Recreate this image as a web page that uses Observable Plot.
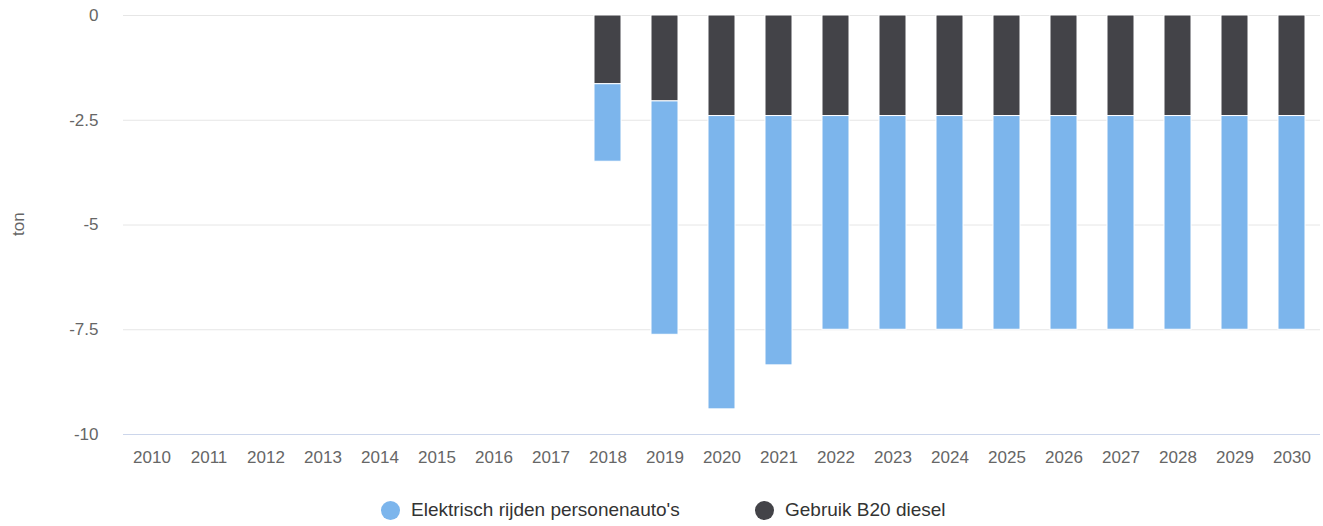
<!DOCTYPE html>
<html><head><meta charset="utf-8">
<script src="https://cdn.jsdelivr.net/npm/d3@7"></script>
<script src="https://cdn.jsdelivr.net/npm/@observablehq/plot@0.6"></script>
<style>
body{margin:0;background:#fff;font-family:"Liberation Sans",Arial,sans-serif;}
#chart{position:relative;width:1323px;height:526px;}
#legend{position:absolute;top:499px;left:0;width:1323px;height:24px;font-size:19px;color:#333;}
.item{position:absolute;display:flex;align-items:center;white-space:nowrap;}
.dot{width:19px;height:19px;border-radius:50%;margin-right:11px;}
</style></head>
<body><div id="chart"><div id="legend"></div></div>
<script>
const years = ["2010","2011","2012","2013","2014","2015","2016","2017","2018","2019","2020","2021","2022","2023","2024","2025","2026","2027","2028","2029","2030"];
const seriesNames = ["Elektrisch rijden personenauto's", "Gebruik B20 diesel"];
const seriesColors = ["#7cb5ec", "#434348"];
// values per year (null = no bar)
const elektrisch = [null,null,null,null,null,null,null,null,-1.85,-5.57,-7.0,-5.95,-5.1,-5.1,-5.1,-5.1,-5.1,-5.1,-5.1,-5.1,-5.1];
const b20 = [null,null,null,null,null,null,null,null,-1.64,-2.05,-2.4,-2.4,-2.4,-2.4,-2.4,-2.4,-2.4,-2.4,-2.4,-2.4,-2.4];
const yTicks = [0,-2.5,-5,-7.5,-10];

const data = [];
years.forEach((y,i)=>{ if(b20[i]!=null) data.push({year:y, series:seriesNames[1], value:b20[i]}); });
years.forEach((y,i)=>{ if(elektrisch[i]!=null) data.push({year:y, series:seriesNames[0], value:elektrisch[i]}); });

const chart = Plot.plot({
  width:1323, height:480,
  marginLeft:123, marginRight:3, marginTop:15, marginBottom:46,
  style:{fontFamily:"'Liberation Sans', Arial, sans-serif", fontSize:"17px", color:"#666", background:"transparent"},
  x:{type:"band", domain:years, paddingInner:0.53, paddingOuter:0.265, align:0.5, tickSize:0, tickPadding:16, label:null},
  y:{domain:[-10,0], ticks:yTicks, tickSize:0, tickPadding:25, tickFormat:d=>String(d), label:null},
  color:{domain:seriesNames, range:seriesColors},
  marks:[
    Plot.ruleY(yTicks.slice(0,4), {stroke:"#e6e6e6", strokeWidth:1}),
    Plot.ruleY([-10], {stroke:"#ccd6eb", strokeWidth:1}),
    Plot.barY(data, {x:"year", y:"value", fill:"series", stroke:"#fff", strokeWidth:1, order:seriesNames.slice().reverse()}),
    Plot.axisY({ticks:yTicks, tickSize:0, tickPadding:25, tickFormat:d=>String(d), label:null, fill:"#666"}),
    Plot.axisX({tickSize:0, tickPadding:16, label:null, fill:"#666"}),
    Plot.text(["ton"], {frameAnchor:"left", dx:-105, dy:11, rotate:-90, fill:"#666", fontSize:17})
  ]
});
chart.style.position="absolute"; chart.style.left="0"; chart.style.top="0";
document.getElementById("chart").prepend(chart);

const legend = document.getElementById("legend");
const lefts = [381, 755];
seriesNames.forEach((n,i)=>{
  const it=document.createElement("div"); it.className="item"; it.style.left=lefts[i]+"px";
  const d=document.createElement("div"); d.className="dot"; d.style.background=seriesColors[i];
  const t=document.createElement("span"); t.textContent=n;
  it.append(d,t); legend.append(it);
});
</script></body></html>
